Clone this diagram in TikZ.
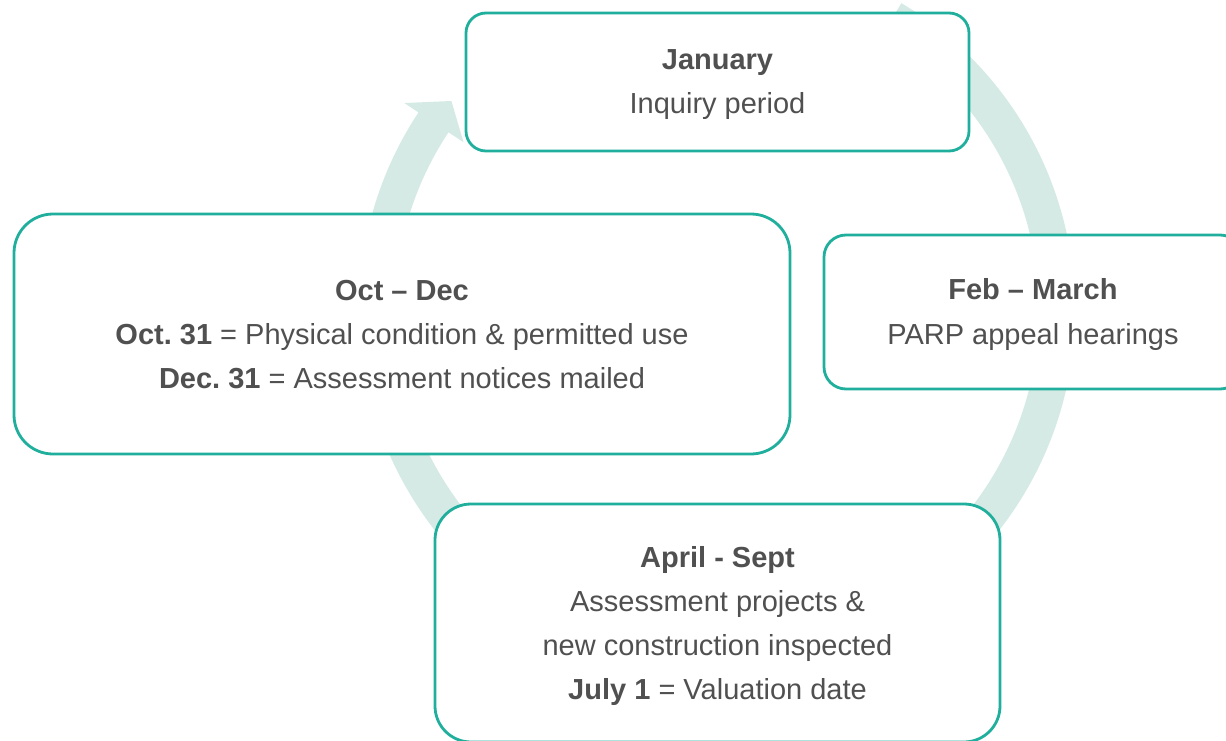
\documentclass[tikz,border=0pt]{standalone}
\usepackage{fontspec}
\setmainfont{Liberation Sans}
\frenchspacing
\usetikzlibrary{calc}
\definecolor{teal1}{HTML}{1FAF9C}
\definecolor{ringc}{HTML}{D5EAE4}
\definecolor{txt}{HTML}{505050}
\begin{document}
\begin{tikzpicture}[x=1pt,y=-1pt,
  box/.style={draw=teal1, line width=2.8pt, fill=white, rounded corners=#1, inner sep=0pt},
  label text/.style={inner sep=0pt, align=center, text=txt, font=\fontsize{29}{44}\selectfont}]
\useasboundingbox (0,0) rectangle (1226,741);
\clip (0,0) rectangle (1226,741);
\coordinate (C) at (717,310);
\fill[ringc] ($(C)+(59:358pt)$) arc[start angle=59,end angle=-213.5,radius=358pt]
  -- ($(C)+(146.5:375pt)$) -- ($(C)+(141.8:338pt)$) -- ($(C)+(146.5:304pt)$)
  -- ($(C)+(146.5:322pt)$) arc[start angle=146.5,end angle=419,radius=322pt] -- cycle;
\node[box=20pt, minimum width=503pt, minimum height=138pt] (jan) at (717.5,82) {};
\node[label text] (jant) at ($(jan.center)+(0,3)$)
  {\textbf{January}\\Inquiry period};
\node[box=39pt, minimum width=776pt, minimum height=240pt] (oct) at (402,334) {};
\node[label text] (octt) at ($(oct.center)+(0,1)$)
  {\textbf{Oct – Dec}\\\textbf{Oct. 31} = Physical condition \& permitted use\\\textbf{Dec. 31} = Assessment notices mailed};
\node[box=22pt, minimum width=418pt, minimum height=154pt] (feb) at (1033,312) {};
\node[label text] (febt) at ($(feb.center)+(0,2.5)$)
  {\textbf{Feb – March}\\PARP appeal hearings};
\node[box=36pt, minimum width=565pt, minimum height=238pt] (apr) at (717.5,623) {};
\node[label text] (aprt) at ($(apr.center)+(0,3)$)
  {\textbf{April - Sept}\\Assessment projects \&\\new construction inspected\\\textbf{July 1} = Valuation date};
\end{tikzpicture}
\end{document}
